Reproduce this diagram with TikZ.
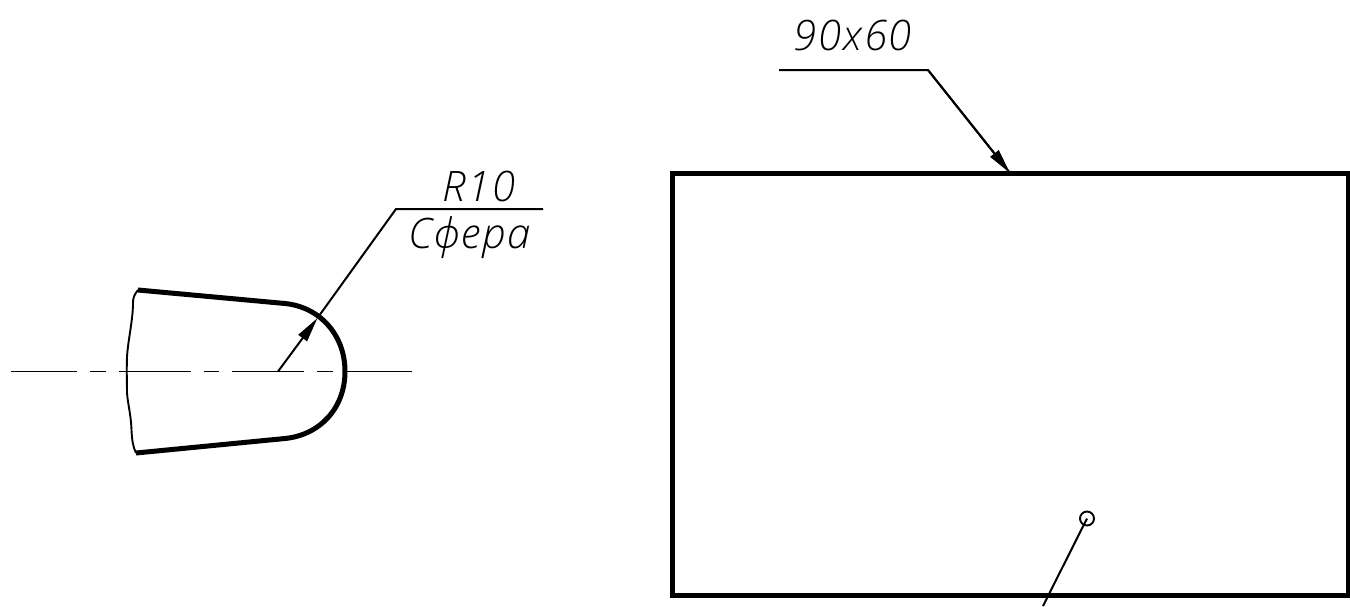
\documentclass[tikz,border=0pt]{standalone}
\usepackage{fontspec}
\usetikzlibrary{arrows.meta}
\newfontfamily\draftfont{Open Sans}[UprightFont=* Light,ItalicFont=* Light Italic,LetterSpace=4]
\tikzset{
  thinline/.style={line width=2pt,black},
  thickline/.style={line width=5pt,black,line join=miter},
  axisline/.style={line width=1.9pt,black},
  breakline/.style={line width=1.9pt,black},
  leadarrow/.style={thinline,-{Triangle[length=25pt,width=10.5pt]}},
  dimtext/.style={font=\draftfont\itshape\fontsize{42}{42}\selectfont,inner sep=0pt,text=black,anchor=center}
}
\begin{document}
\begin{tikzpicture}[x=1pt,y=-1pt]
\useasboundingbox (0,0) rectangle (1350,606);
% coordinates
\coordinate (c) at (278,371.5);
\coordinate (tipA) at (317.5,318);
\coordinate (elbowA) at (396,209);
\coordinate (endA) at (543,209);
\coordinate (startB) at (779,70);
\coordinate (elbowB) at (928,70);
\coordinate (tipB) at (1010,173);
\coordinate (dotend) at (1043,606);
% centre line
\foreach \a/\b in {11/77,90/106,119/191,204/219,232/304,317/333,345/412}
  \draw[axisline] (\a,371.5) -- (\b,371.5);
% broken edge
\draw[breakline] (138,290) .. controls (134,295) and (133,298) .. (133,303)
  .. controls (133,320) and (128,340) .. (127,357)
  .. controls (126.5,370) and (127,385) .. (127,393)
  .. controls (128,405) and (131,415) .. (131.5,430)
  .. controls (132,440) and (133,447) .. (136,453);
% profile
\draw[thickline] (138,290) -- (285,303.5)
  .. controls (320,307) and (345,335) .. (345,371.5)
  .. controls (345,408) and (320,435) .. (285,438.5) -- (136,453);
% leader R10
\draw[leadarrow] (c) -- (tipA);
\draw[thinline,line join=miter] (tipA) -- (elbowA) -- (endA);
\node[dimtext] (r) at (479,186) {R10};
\node[dimtext] (s) at (470,238) {Сфера};
% rectangle
\node[draw=black,line width=5pt,minimum width=676pt,minimum height=421.5pt,inner sep=0pt,outer sep=0pt] (plate) at (1010,384.7) {};
% leader 90x60
\draw[thinline,line join=miter] (startB) -- (elbowB) -- (tipB);
\draw[leadarrow] (elbowB) -- (tipB);
\node[dimtext] (d) at (853,35) {90x60};
% dot and free leader
\node[circle,draw=black,line width=1.9pt,minimum size=14pt,inner sep=0pt] (dot) at (1087,518.5) {};
\draw[thinline] (dot.center) -- (dotend);
\end{tikzpicture}
\end{document}
